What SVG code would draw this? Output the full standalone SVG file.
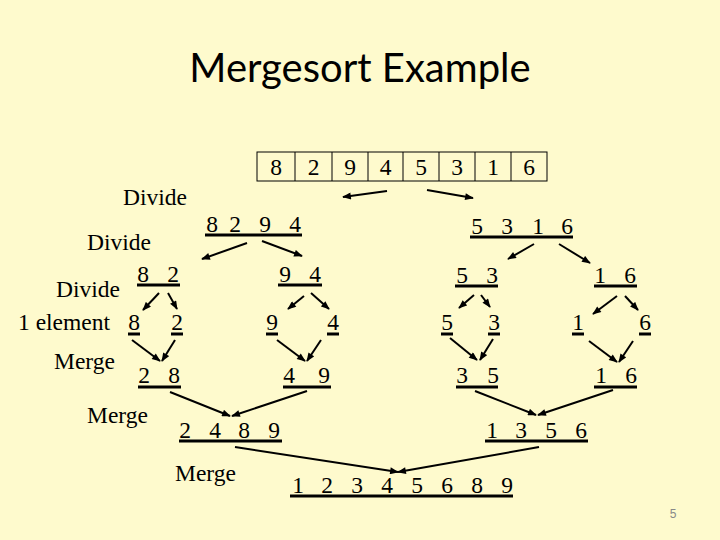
<svg xmlns="http://www.w3.org/2000/svg" width="720" height="540" viewBox="0 0 720 540">
<style>
.t{font-family:"Liberation Serif","Times New Roman",serif;font-size:23.5px;fill:#000}
.u{stroke:#000;stroke-width:3}
.c{stroke:#000;stroke-width:2;fill:none;marker-end:url(#ah)}
.cell{fill:none;stroke:#000;stroke-width:1}
</style>
<defs>
<marker id="ah" viewBox="0 0 10 8" refX="9" refY="4" markerWidth="10" markerHeight="7" markerUnits="userSpaceOnUse" orient="auto">
<path d="M0,0 L10,4 L0,8 Z" fill="#000"/>
</marker>
</defs>
<rect width="720" height="540" fill="#FEFACD"/>
<g id="title"><text x="360" y="82" text-anchor="middle" style="font-family:Lato,'Open Sans','Liberation Sans',sans-serif;font-size:40px">Mergesort Example</text></g>
<g id="array">
<rect class="cell" x="257" y="152" width="290" height="29"/>
<path class="cell" d="M295,152V181M332,152V181M368,152V181M403,152V181M439,152V181M475,152V181M511,152V181"/>
<text class="t" x="276 313.5 350 385.5 421 457 493 529" y="175" text-anchor="middle">82945316</text>
</g>
<g id="labels">
<text class="t" x="123" y="205">Divide</text>
<text class="t" x="87" y="250">Divide</text>
<text class="t" x="56" y="297">Divide</text>
<text class="t" x="18" y="330">1 element</text>
<text class="t" x="54" y="369">Merge</text>
<text class="t" x="87" y="423">Merge</text>
<text class="t" x="175" y="481">Merge</text>
</g>
<g id="n8294"><text class="t" x="212 235 265 295" y="232" text-anchor="middle">8294</text><line class="u" x1="205" y1="235" x2="302" y2="235"/></g>
<g id="n5316"><text class="t" x="477 507 538 567" y="234" text-anchor="middle">5316</text><line class="u" x1="470" y1="237" x2="573" y2="237"/></g>
<g id="n82"><text class="t" x="143 173" y="282" text-anchor="middle">82</text><line class="u" x1="137" y1="285" x2="180" y2="285"/></g>
<g id="n94"><text class="t" x="285 315" y="282" text-anchor="middle">94</text><line class="u" x1="278" y1="285" x2="322" y2="285"/></g>
<g id="n53"><text class="t" x="462 492" y="283" text-anchor="middle">53</text><line class="u" x1="455" y1="286" x2="498" y2="286"/></g>
<g id="n16a"><text class="t" x="600 630" y="283" text-anchor="middle">16</text><line class="u" x1="594" y1="286" x2="637" y2="286"/></g>
<g id="e8"><text class="t" x="134" y="330" text-anchor="middle">8</text><line class="u" x1="128" y1="334" x2="140" y2="334"/></g>
<g id="e2"><text class="t" x="177" y="330" text-anchor="middle">2</text><line class="u" x1="171" y1="334" x2="183" y2="334"/></g>
<g id="e9"><text class="t" x="272" y="330" text-anchor="middle">9</text><line class="u" x1="266" y1="334" x2="278" y2="334"/></g>
<g id="e4"><text class="t" x="333" y="330" text-anchor="middle">4</text><line class="u" x1="327" y1="334" x2="339" y2="334"/></g>
<g id="e5"><text class="t" x="447" y="330" text-anchor="middle">5</text><line class="u" x1="441" y1="334" x2="453" y2="334"/></g>
<g id="e3"><text class="t" x="494" y="330" text-anchor="middle">3</text><line class="u" x1="488" y1="334" x2="500" y2="334"/></g>
<g id="e1"><text class="t" x="578" y="330" text-anchor="middle">1</text><line class="u" x1="572" y1="334" x2="584" y2="334"/></g>
<g id="e6"><text class="t" x="645" y="330" text-anchor="middle">6</text><line class="u" x1="639" y1="334" x2="651" y2="334"/></g>
<g id="n28"><text class="t" x="144 174" y="383" text-anchor="middle">28</text><line class="u" x1="138" y1="387" x2="181" y2="387"/></g>
<g id="n49"><text class="t" x="289 324" y="383" text-anchor="middle">49</text><line class="u" x1="283" y1="387" x2="331" y2="387"/></g>
<g id="n35"><text class="t" x="462 493" y="383" text-anchor="middle">35</text><line class="u" x1="456" y1="387" x2="498" y2="387"/></g>
<g id="n16b"><text class="t" x="601 631" y="383" text-anchor="middle">16</text><line class="u" x1="594" y1="387" x2="637" y2="387"/></g>
<g id="n2489"><text class="t" x="185 215 244 274" y="438" text-anchor="middle">2489</text><line class="u" x1="179" y1="441" x2="282" y2="441"/></g>
<g id="n1356"><text class="t" x="492 521 551 581" y="438" text-anchor="middle">1356</text><line class="u" x1="485" y1="441" x2="588" y2="441"/></g>
<g id="n12345689"><text class="t" x="298 327 357 387 417 447 477 507" y="493" text-anchor="middle">12345689</text><line class="u" x1="290" y1="496" x2="513" y2="496"/></g>
<g id="connectors">
<line class="c" x1="387" y1="191" x2="343" y2="197"/>
<line class="c" x1="427" y1="190" x2="473" y2="198"/>
<line class="c" x1="247" y1="243" x2="202" y2="259"/>
<line class="c" x1="262" y1="241" x2="302" y2="256"/>
<line class="c" x1="534" y1="244" x2="508" y2="259"/>
<line class="c" x1="559" y1="244" x2="590" y2="263"/>
<line class="c" x1="159" y1="293" x2="143" y2="310"/>
<line class="c" x1="168" y1="293" x2="177" y2="309"/>
<line class="c" x1="304" y1="296" x2="288" y2="309"/>
<line class="c" x1="311" y1="293" x2="329" y2="309"/>
<line class="c" x1="474" y1="295" x2="459" y2="308"/>
<line class="c" x1="481" y1="295" x2="490" y2="307"/>
<line class="c" x1="617" y1="296" x2="593" y2="314"/>
<line class="c" x1="625" y1="296" x2="638" y2="310"/>
<line class="c" x1="132" y1="340" x2="160" y2="361"/>
<line class="c" x1="175" y1="340" x2="162" y2="361"/>
<line class="c" x1="277" y1="340" x2="305" y2="361"/>
<line class="c" x1="321" y1="340" x2="307" y2="361"/>
<line class="c" x1="450" y1="338" x2="477" y2="360"/>
<line class="c" x1="493" y1="339" x2="480" y2="360"/>
<line class="c" x1="589" y1="341" x2="617" y2="362"/>
<line class="c" x1="633" y1="341" x2="619" y2="362"/>
<line class="c" x1="170" y1="392" x2="230" y2="416"/>
<line class="c" x1="307" y1="391" x2="232" y2="416"/>
<line class="c" x1="475" y1="391" x2="536" y2="415"/>
<line class="c" x1="613" y1="390" x2="538" y2="415"/>
<line class="c" x1="235" y1="447" x2="398" y2="472"/>
<line class="c" x1="539" y1="447" x2="398" y2="472"/>
</g>
<g id="page"><text x="673" y="518" text-anchor="middle" style="font-family:'Liberation Sans',Arial,sans-serif;font-size:12px;fill:#888">5</text></g>
</svg>
